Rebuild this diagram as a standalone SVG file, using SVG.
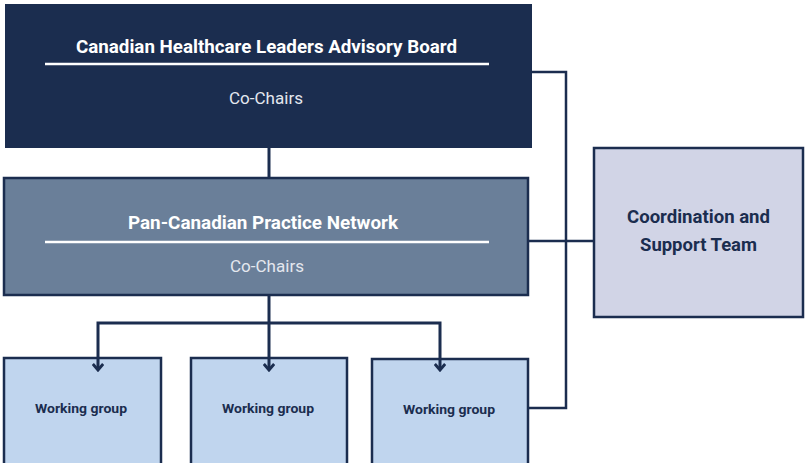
<svg xmlns="http://www.w3.org/2000/svg" width="805" height="463" viewBox="0 0 805 463">
<defs>
<style>
.title{font-family:Roboto,"Liberation Sans",sans-serif;font-weight:bold;font-size:18px;fill:#ffffff;text-anchor:middle}
.sub{font-family:Roboto,"Liberation Sans",sans-serif;font-size:17px;fill:#e4e7ee;text-anchor:middle}
.wg{font-family:Roboto,"Liberation Sans",sans-serif;font-weight:bold;font-size:13.5px;fill:#1b2d4f;text-anchor:middle}
.ct{font-family:Roboto,"Liberation Sans",sans-serif;font-weight:bold;font-size:17.5px;fill:#1b2d4f;text-anchor:middle}
.rule{stroke:#ffffff;stroke-width:2.5}
.wgbox{fill:#c0d5ee;stroke:#1b2d4f;stroke-width:2.5}
.conn{fill:none;stroke:#1b2d4f;stroke-width:3}
.side{fill:none;stroke:#1b2d4f;stroke-width:2.5}
</style>
<marker id="arr" viewBox="0 0 12 12" refX="10" refY="6" markerWidth="12" markerHeight="12" markerUnits="userSpaceOnUse" orient="auto-start-reverse">
<path d="M4,0.8 L10,6 L4,11.2" fill="none" stroke="#1b2d4f" stroke-width="3" stroke-linejoin="miter"/>
</marker>
</defs>
<rect width="805" height="463" fill="#ffffff"/>
<g id="advisory-board">
<rect x="5" y="4" width="527" height="144" fill="#1b2d4f"/>
<text class="title" x="266.5" y="53" textLength="381" lengthAdjust="spacingAndGlyphs">Canadian Healthcare Leaders Advisory Board</text>
<line class="rule" x1="45" y1="64" x2="489" y2="64"/>
<text class="sub" x="266" y="104" textLength="74" lengthAdjust="spacingAndGlyphs">Co-Chairs</text>
</g>
<g id="practice-network">
<rect x="4" y="178" width="524" height="117" fill="#6a7f99" stroke="#1b2d4f" stroke-width="2.5"/>
<text class="title" x="263" y="229" textLength="270" lengthAdjust="spacingAndGlyphs">Pan-Canadian Practice Network</text>
<line class="rule" x1="45" y1="242" x2="489" y2="242"/>
<text class="sub" x="267" y="272" textLength="74" lengthAdjust="spacingAndGlyphs">Co-Chairs</text>
</g>
<g id="coordination-team">
<rect x="594" y="148" width="209" height="169" fill="#d1d4e6" stroke="#1b2d4f" stroke-width="2.5"/>
<text class="ct" x="698.5" y="223" textLength="143" lengthAdjust="spacingAndGlyphs">Coordination and</text>
<text class="ct" x="698.5" y="251" textLength="117" lengthAdjust="spacingAndGlyphs">Support Team</text>
</g>
<g id="working-group-1">
<rect class="wgbox" x="4" y="358" width="157" height="108"/>
<text class="wg" x="81" y="413" textLength="92" lengthAdjust="spacingAndGlyphs">Working group</text>
</g>
<g id="working-group-2">
<rect class="wgbox" x="191" y="358" width="156" height="108"/>
<text class="wg" x="268" y="413" textLength="92" lengthAdjust="spacingAndGlyphs">Working group</text>
</g>
<g id="working-group-3">
<rect class="wgbox" x="372" y="359" width="156" height="107"/>
<text class="wg" x="449" y="414" textLength="92" lengthAdjust="spacingAndGlyphs">Working group</text>
</g>
<g id="connectors">
<line class="conn" x1="269" y1="148" x2="269" y2="177"/>
<line class="conn" x1="269" y1="296" x2="269" y2="370" marker-end="url(#arr)"/>
<polyline class="conn" points="98,370 98,323 440,323 440,370" marker-start="url(#arr)" marker-end="url(#arr)"/>
<polyline class="side" points="532,72 566,72 566,408 529,408"/>
<line class="side" x1="529" y1="241" x2="593" y2="241"/>
</g>
</svg>
